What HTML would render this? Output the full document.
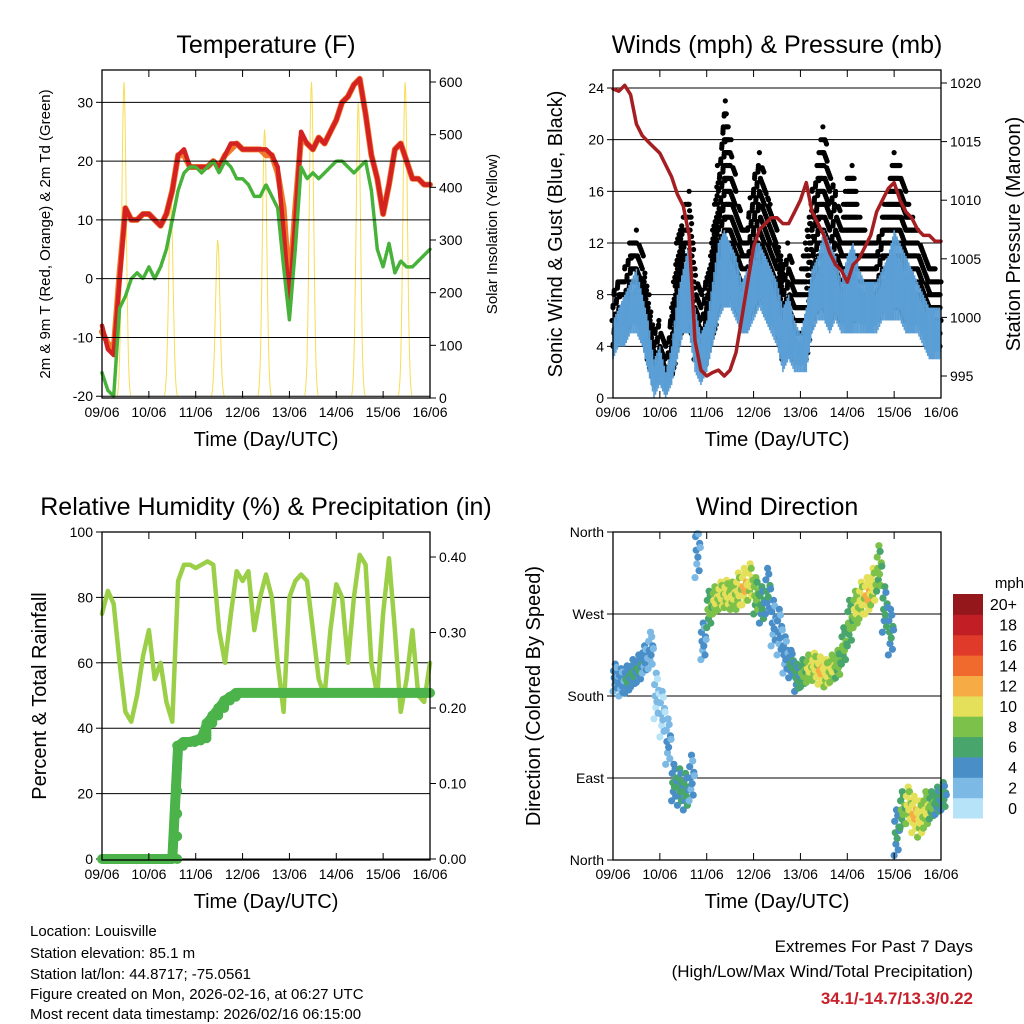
<!DOCTYPE html>
<html><head><meta charset="utf-8"><style>
body{margin:0;background:#fff}
svg{display:block;font-family:"Liberation Sans",sans-serif}
</style></head><body>
<svg id="s" width="1024" height="1024" viewBox="0 0 1024 1024">
<rect width="1024" height="1024" fill="#fff"/>
<g id="g1"></g>
<g id="g2"></g>
<g id="g3"></g>
<g id="g4"></g>
<g font-size="15" fill="#000">
<text x="30" y="936">Location: Louisville</text>
<text x="30" y="958">Station elevation: 85.1 m</text>
<text x="30" y="979">Station lat/lon: 44.8717; -75.0561</text>
<text x="30" y="999">Figure created on Mon, 2026-02-16, at 06:27 UTC</text>
<text x="30" y="1019">Most recent data timestamp: 2026/02/16 06:15:00</text>
</g>
<g font-size="17" text-anchor="end">
<text x="973" y="952">Extremes For Past 7 Days</text>
<text x="973" y="977">(High/Low/Max Wind/Total Precipitation)</text>
<text x="973" y="1004" fill="#c8202a" font-weight="bold">34.1/-14.7/13.3/0.22</text>
</g>
</svg>
<script>
const days=["09/06","10/06","11/06","12/06","13/06","14/06","15/06","16/06"];
const tRed=[-8,-12,-13,0,12,10,10,11,11,10,9,11,15,21,22,19,19,19,19,20,19,21,23,23,22,22,22,22,22,21,19,8,-4,10,25,23,22,24,23,25,27,30,31,33,34,28,21,17,11,16,22,23,20,17,17,16,16];
const tOrange=[-9,-11,-12,1,12,10,10,11,11,10,9,11,15,21,21,19,19,19,19,20,19,21,22,23,22,22,22,22,21,21,18,12,-2,12,24,23,22,24,23,25,27,30,31,33,34,28,21,17,11,16,22,23,20,17,17,16,16];
const tdGreen=[-16,-19,-20,-5,-3,0,1,0,2,0,2,5,10,15,18,19,19,18,19,20,18,20,19,17,17,16,14,14,16,14,12,2,-7,5,19,17,18,17,18,19,20,20,19,18,19,20,15,5,2,6,1,3,2,2,3,4,5];
const solarPeak=[600,380,300,510,600,560,600];
const pressure=[1019.5,1019.3,1019.8,1019,1016.5,1015.5,1015,1014.5,1014,1013,1012,1010.5,1009.5,1007,998,995.5,995,995.3,995.5,995,995.5,997,1000,1003,1006,1007.5,1008,1008.5,1008.5,1008,1008,1009,1010,1011.5,1009,1008,1007,1005.5,1004.5,1004,1003,1004.5,1005,1006,1007,1009,1010,1011,1011.5,1010,1009,1008.5,1007.5,1007,1007,1006.5,1006.5];
const gustHi=[8,9,10,12,13,11,8,5,6,4,7,12,14,16,10,8,9,13,18,23,20,16,13,14,17,19,16,15,13,10,12,9,9,12,16,18,21,17,16,13,17,18,14,13,12,12,14,16,19,18,16,14,13,11,10,10,9];
const windHi=[6,7,8,9,10,8,6,3,4,2,4,8,10,12,7,5,6,9,12,13,12,11,9,10,12,12,11,10,9,7,8,6,5,7,10,11,13,12,11,9,11,12,10,9,9,9,10,11,13,12,11,10,9,8,7,7,7];
const windLo=[3,4,4,5,5,4,2,0,1,0,1,3,5,5,2,1,2,4,6,7,7,6,5,5,6,7,6,5,4,2,3,2,2,2,5,6,6,5,6,5,5,5,5,5,5,5,6,6,6,6,5,5,5,4,3,3,3];
const rh=[75,82,78,60,45,42,50,62,70,55,60,48,42,85,90,90,89,90,91,90,70,60,75,88,85,88,70,80,87,80,60,45,80,85,87,85,70,55,50,70,84,80,60,80,93,90,60,50,75,92,70,45,55,70,50,48,60];
const precip=[0,0,0,0,0,0,0,0,0,0,0,0,0,0.15,0.155,0.155,0.157,0.16,0.18,0.19,0.2,0.21,0.215,0.22,0.22,0.22,0.22,0.22,0.22,0.22,0.22,0.22,0.22,0.22,0.22,0.22,0.22,0.22,0.22,0.22,0.22,0.22,0.22,0.22,0.22,0.22,0.22,0.22,0.22,0.22,0.22,0.22,0.22,0.22,0.22,0.22,0.22];
const dir=[200,195,198,205,210,220,230,180,160,130,85,80,75,90,340,240,275,285,290,292,290,295,300,305,290,280,295,260,250,225,215,200,205,210,212,208,205,210,215,235,260,275,285,290,300,320,275,250,30,55,60,50,45,55,60,65,70];
const dirSpeed=[3,3,4,4,4,3,2,1,1,2,4,5,5,3,3,3,6,8,9,9,8,9,10,9,7,5,4,3,3,3,4,5,6,8,9,10,9,8,7,6,6,8,9,10,9,7,5,4,4,6,9,10,9,8,6,5,5];
const dirSpread=[15,15,15,15,15,15,20,25,25,25,20,20,20,25,30,20,20,15,15,15,15,20,20,20,20,20,25,25,25,20,15,15,15,15,15,15,15,15,15,20,25,20,20,20,20,25,25,25,25,20,20,20,20,20,15,15,15];
const cbLabels=["0","2","4","6","8","10","12","14","16","18","20+"];
const cbColors=["#b6e3f8","#7db9e5","#4a8ec8","#48a56c","#7cc14a","#e4e05a","#f6ab45","#ef6a2c","#df3a2a","#c21e26","#94181b"];

const NS="http://www.w3.org/2000/svg";
function el(p,t,a){const e=document.createElementNS(NS,t);for(const k in a)e.setAttribute(k,a[k]);p.appendChild(e);return e;}
function txt(p,x,y,s,size,anchor,rot){const e=el(p,"text",{x:x,y:y,"font-size":size,"text-anchor":anchor||"middle"});if(rot)e.setAttribute("transform",`rotate(-90 ${x} ${y})`);e.textContent=s;return e;}
const T=i=>i*0.125;
function frame(g,L,R,Tp,B,title,xlab){
  const xs=d=>L+(R-L)*d/7;
  txt(g,(L+R)/2,Tp-17,title,25);
  
  el(g,"rect",{x:L,y:Tp,width:R-L,height:B-Tp,fill:"none",stroke:"#000","stroke-width":1.3});
  for(let d=0;d<=7;d++){const x=xs(d);
    el(g,"line",{x1:x,y1:B,x2:x,y2:B-7,stroke:"#000"});el(g,"line",{x1:x,y1:Tp,x2:x,y2:Tp+7,stroke:"#000"});
    const t=txt(g,x,B+19,days[d],14);}
  const xl=txt(g,(L+R)/2,B+48,xlab,20);
  return xs;
}
function yaxis(g,L,R,ys,ticks,fmt,side,grid){
  ticks.forEach(v=>{const y=ys(v);
    if(grid)el(g,"line",{x1:L,y1:y,x2:R,y2:y,stroke:"#000","stroke-width":1});
    if(side==="l"){el(g,"line",{x1:L-6,y1:y,x2:L,y2:y,stroke:"#000"});const t=txt(g,L-9,y+5,fmt(v),14,"end");}
    else{el(g,"line",{x1:R,y1:y,x2:R+6,y2:y,stroke:"#000"});const t=txt(g,R+9,y+5,fmt(v),14,"start");}
  });
}
function path(g,xs,ys,arr,stroke,w,name){let d="";arr.forEach((v,i)=>{d+=(i?"L":"M")+xs(T(i)).toFixed(1)+","+ys(v).toFixed(1);});
  const p=el(g,"path",{d:d,fill:"none",stroke:stroke,"stroke-width":w,"stroke-linejoin":"round","stroke-linecap":"round"});
  return p;}

// Panel 1
(function(){const g=document.getElementById("g1");const L=102,R=430,Tp=70,B=398;
 const ys=v=>398-(v+20.3)*(328/55.8);const ys2=v=>398-v*(316/600);
 const cg=el(g,"g",{});
 yaxis(g,L,R,ys,[-20,-10,0,10,20,30],v=>v,"l",true);
 yaxis(g,L,R,ys2,[0,100,200,300,400,500,600],v=>v,"r",false);
 const xs=d=>L+(R-L)*d/7;
 solarPeak.forEach((p,k)=>{const c=k+0.47;let d="";for(let j=-12;j<=12;j++){const dd=c+j*0.012;const f=Math.exp(-(j*j)/30);d+=(j>-12?"L":"M")+xs(dd).toFixed(1)+","+ys2(p*f).toFixed(1);}
   const s=el(cg,"path",{d:d,fill:"none",stroke:"#f7dd55","stroke-width":1});
   });
 path(cg,xs,ys,tOrange,"#f07a2a",6,"temp-9m-line");
 path(cg,xs,ys,tRed,"#d42121",4.5,"temp-2m-line");
 path(cg,xs,ys,tdGreen,"#46b23a",3.5,"dewpoint-line").setAttribute("stroke-dasharray","2 1.5");
 frame(g,L,R,Tp,B,"Temperature (F)","Time (Day/UTC)");
 const a=txt(g,50,234,"2m & 9m T (Red, Orange) & 2m Td (Green)",15,"middle",true);
 const b=txt(g,497,234,"Solar Insolation (Yellow)",15,"middle",true);
})();

// Panel 2
(function(){const g=document.getElementById("g2");const L=613,R=941,Tp=70,B=398;
 const ys=v=>398-v*(310/24);const ys2=v=>376-(v-995)*(293/25);
 const xs=d=>L+(R-L)*d/7;
 yaxis(g,L,R,ys,[0,4,8,12,16,20,24],v=>v,"l",true);
 yaxis(g,L,R,ys2,[995,1000,1005,1010,1015,1020],v=>v,"r",false);
 const dg=el(g,"g",{fill:"#000"});
 for(let i=0;i<gustHi.length-1;i++){for(let j=0;j<6;j++){const t=j/6;const d=T(i)+t*0.125;
   const hi=gustHi[i]+(gustHi[i+1]-gustHi[i])*t;const lo=windLo[i]+(windLo[i+1]-windLo[i])*t+1;
   for(let v=lo;v<=hi;v+=1.0){const c=el(dg,"circle",{cx:(xs(d)+((v*7+j)%3)-1).toFixed(1),cy:ys(v).toFixed(1),r:2.6});
     }}}
 const bg=el(g,"g",{stroke:"#5b9fd6","stroke-width":1.6});
 for(let i=0;i<windHi.length-1;i++){for(let j=0;j<8;j++){const t=j/8;const d=T(i)+t*0.125;
   const hi=windHi[i]+(windHi[i+1]-windHi[i])*t;const lo=windLo[i]+(windLo[i+1]-windLo[i])*t;
   const sh=(j%2)?0.75:1;const x=xs(d).toFixed(1);
   const ln=el(bg,"line",{x1:x,x2:x,y1:ys(lo+(hi-lo)*(1-sh)*0.6).toFixed(1),y2:ys(hi*sh+lo*(1-sh)).toFixed(1)});
   }}
 path(g,xs,ys2,pressure,"#a51e22",3.5,"pressure-line");
 frame(g,L,R,Tp,B,"Winds (mph) & Pressure (mb)","Time (Day/UTC)");
 const a=txt(g,562,234,"Sonic Wind & Gust (Blue, Black)",20,"middle",true);
 const b=txt(g,1020,234,"Station Pressure (Maroon)",20,"middle",true);
})();

// Panel 3
(function(){const g=document.getElementById("g3");const L=102,R=430,Tp=532,B=860;
 const ys=v=>859-v*3.27;const ys2=v=>859-v*755;const xs=d=>L+(R-L)*d/7;
 yaxis(g,L,R,ys,[0,20,40,60,80,100],v=>v,"l",true);
 yaxis(g,L,R,ys2,[0,0.1,0.2,0.3,0.4],v=>v.toFixed(2),"r",false);
 path(g,xs,ys,rh,"#9bcf48",4.5,"relative-humidity-line");
 path(g,xs,ys2,precip,"#4bb34a",10,"precipitation-line");
 precip.forEach((v,i)=>{if(i>0&&v!==precip[i-1]){for(let k=0;k<6;k++){const vv=precip[i-1]+(v-precip[i-1])*k/5;const c=el(g,"circle",{cx:xs(T(i)-0.02).toFixed(1),cy:ys2(vv).toFixed(1),r:5,fill:"#4bb34a"});}}});
 frame(g,L,R,Tp,B,"Relative Humidity (%) & Precipitation (in)","Time (Day/UTC)");
 const a=txt(g,46,696,"Percent & Total Rainfall",20,"middle",true);
})();

// Panel 4
(function(){const g=document.getElementById("g4");const L=613,R=941,Tp=532,B=860;
 const ys=v=>860-v*(328/360);const xs=d=>L+(R-L)*d/7;
 yaxis(g,L,R,ys,[0,90,180,270,360],v=>["North","East","South","West","North"][v/90],"l",true);
 const col=s=>cbColors[Math.min(10,Math.max(0,Math.round(s/2)))];
 const offs=[-1,0.5,0,-0.5,1,-0.25,0.75,-0.75,0.25,0.1];
 dir.forEach((v,i)=>{offs.forEach((o,k)=>{let dv=v+dirSpread[i]*o;if(dv<0)dv=2;if(dv>360)dv=358;
   const c=el(g,"circle",{cx:xs(T(i)+k*0.0125).toFixed(1),cy:ys(dv).toFixed(1),r:3.6,fill:col(dirSpeed[i]+(k%3)-1)});
   });});
 frame(g,L,R,Tp,B,"Wind Direction","Time (Day/UTC)");
 const a=txt(g,540,696,"Direction (Colored By Speed)",20,"middle",true);
 const cb=el(g,"g",{});
 const h=224/11;
 cbColors.forEach((c,k)=>{const y=818-(k+1)*h;el(cb,"rect",{x:953,y:y.toFixed(1),width:30,height:(h+0.5).toFixed(1),fill:c});
   const t=txt(cb,1017,y+h/2+6,cbLabels[k],16,"end");});
 const m=txt(cb,1024,588,"mph",15,"end");
})();
</script>
</body></html>
